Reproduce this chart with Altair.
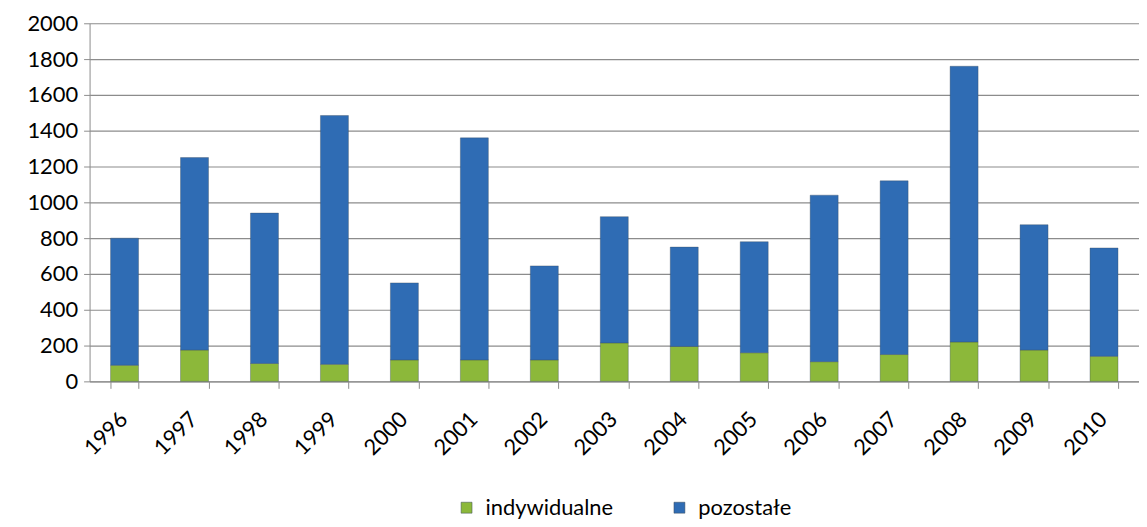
import altair as alt
import pandas as pd

years = ["1996", "1997", "1998", "1999", "2000", "2001", "2002", "2003",
         "2004", "2005", "2006", "2007", "2008", "2009", "2010"]
totals = [800, 1250, 940, 1485, 550, 1360, 645, 920, 750, 780, 1040, 1120, 1760, 875, 745]
indywidualne = [90, 175, 100, 95, 120, 120, 120, 215, 195, 160, 110, 150, 220, 175, 140]
pozostale = [t - i for t, i in zip(totals, indywidualne)]

series_names = ["indywidualne", "pozostałe"]
series_colors = ["#8cb83a", "#2f6cb4"]

rows = []
for y, a, b in zip(years, indywidualne, pozostale):
    rows.append({"rok": y, "seria": series_names[0], "wartosc": a, "kolej": 0})
    rows.append({"rok": y, "seria": series_names[1], "wartosc": b, "kolej": 1})
df = pd.DataFrame(rows)

FONT = "Lato"

chart = alt.Chart(df).mark_bar(
    stroke="#3a4a5a", strokeWidth=0.6, strokeOpacity=0.6
).encode(
    x=alt.X("rok:N", sort=years, title=None,
            scale=alt.Scale(paddingInner=0.6, paddingOuter=0.3),
            axis=alt.Axis(labelAngle=-45, labelFontSize=22, labelFont=FONT,
                          labelColor="#000", domainColor="#8c8c8c", tickColor="#8c8c8c",
                          tickBand="extent", tickSize=7, labelPadding=20, labelOffset=-8,
                          grid=False)),
    y=alt.Y("wartosc:Q", stack="zero", title=None,
            scale=alt.Scale(domain=[0, 2000], nice=False),
            axis=alt.Axis(values=list(range(0, 2001, 200)), format="d",
                          labelFontSize=22, labelFont=FONT,
                          labelColor="#000", gridColor="#8c8c8c", gridWidth=1.2,
                          domainColor="#8c8c8c", tickColor="#8c8c8c", tickSize=6,
                          labelPadding=6)),
    color=alt.Color("seria:N", sort=series_names,
                    scale=alt.Scale(domain=series_names, range=series_colors),
                    legend=alt.Legend(title=None, orient="none", direction="horizontal",
                                      legendX=368, legendY=476, symbolType="square",
                                      symbolSize=121, labelFontSize=22, labelFont=FONT,
                                      labelColor="#000", columnPadding=55, labelOffset=8,
                                      symbolStrokeWidth=0.5)),
    order=alt.Order("kolej:Q"),
).properties(
    width=1055, height=360,
    autosize=alt.AutoSizeParams(type="none"),
    padding={"left": 82, "top": 14, "right": 0, "bottom": 137},
).configure_view(stroke=None)

chart.save("out.html", embed_options={"renderer": "svg", "actions": False})
